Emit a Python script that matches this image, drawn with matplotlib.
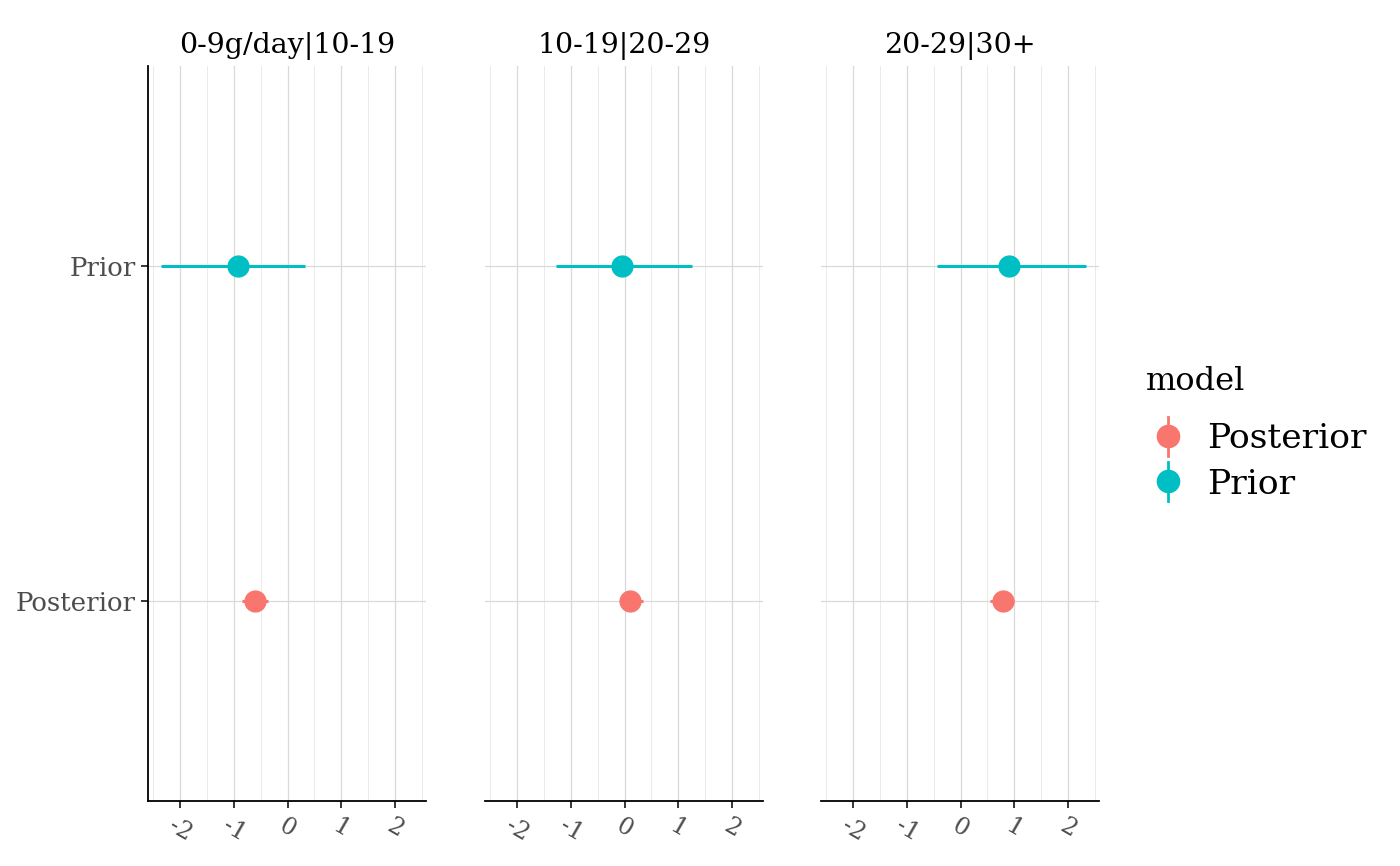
import matplotlib
matplotlib.use("Agg")
import matplotlib.pyplot as plt
from matplotlib.lines import Line2D
from matplotlib.legend_handler import HandlerBase

plt.rcParams['font.family'] = ['DejaVu Serif']

facets = ["0-9g/day|10-19", "10-19|20-29", "20-29|30+"]
models = ["Posterior", "Prior"]
colors = {"Posterior": "#F8766D", "Prior": "#00BFC4"}

# estimate, lower, upper per facet
prior_est = [-0.93, -0.04, 0.90]
prior_lo = [-2.36, -1.27, -0.43]
prior_hi = [0.32, 1.25, 2.34]
post_est = [-0.61, 0.11, 0.79]
post_lo = [-0.84, -0.09, 0.54]
post_hi = [-0.37, 0.34, 1.00]

xticks = [-2, -1, 0, 1, 2]
xticklabels = ["-2", "-1", "0", "1", "2"]

fig = plt.figure(figsize=(14, 8.66), dpi=100)
lefts = [148, 485, 821]
W, H = 1400, 866
axes = []
for i, f in enumerate(facets):
    ax = fig.add_axes([lefts[i] / W, 1 - 801 / H, 278 / W, 735 / H])
    axes.append(ax)
    data = {"Posterior": (post_est[i], post_lo[i], post_hi[i]),
            "Prior": (prior_est[i], prior_lo[i], prior_hi[i])}
    for j, m in enumerate(models):
        est, lo, hi = data[m]
        y = j + 1
        ax.hlines(y, lo, hi, color=colors[m], lw=2.2, zorder=3)
        ax.plot([est], [y], 'o', color=colors[m], ms=15, zorder=4)
    ax.set_xlim(-2.6, 2.58)
    ax.set_ylim(0.4, 2.6)
    ax.set_xticks(xticks)
    ax.set_xticks([-2.5, -1.5, -0.5, 0.5, 1.5, 2.5], minor=True)
    ax.set_yticks([1, 2])
    ax.grid(True, which='major', color='#D9D9D9', lw=0.9, zorder=0)
    ax.grid(True, which='minor', axis='x', color='#EBEBEB', lw=0.7, zorder=0)
    ax.tick_params(axis='x', which='minor', length=0)
    for s in ['top', 'right']:
        ax.spines[s].set_visible(False)
    ax.spines['bottom'].set_linewidth(1.3)
    ax.spines['left'].set_linewidth(1.3)
    ax.set_xticklabels(xticklabels, rotation=-30, ha='center', fontsize=17,
                       color='#4D4D4D')
    ax.tick_params(axis='x', length=5, width=1.1, pad=5)
    if i == 0:
        ax.set_yticklabels(models, fontsize=18.7, color='#4D4D4D')
        ax.tick_params(axis='y', length=5, width=1.1, pad=4)
    else:
        ax.spines['left'].set_visible(False)
        ax.tick_params(axis='y', length=0, labelleft=False)
    ax.set_title(f, fontsize=20.5, pad=9)
    ax.set_axisbelow(True)


class HandlerPointRange(HandlerBase):
    def create_artists(self, legend, orig_handle, xdescent, ydescent,
                       width, height, fontsize, trans):
        c = orig_handle.get_color()
        cx = width / 2 - xdescent
        vline = Line2D([cx, cx], [-ydescent - 0.3 * height, height * 1.3 - ydescent],
                       color=c, lw=2, transform=trans)
        pt = Line2D([cx], [height / 2 - ydescent], marker='o', color=c, ms=16,
                    transform=trans)
        return [vline, pt]


fig.text(1146 / W, 1 - 382 / H, "model", fontsize=23, ha='left', va='center')
handles = [Line2D([], [], color=colors[m]) for m in models]
leg = fig.legend(handles, models, loc='center left',
                 bbox_to_anchor=(1152 / W, 1 - 462 / H), frameon=False,
                 handler_map={Line2D: HandlerPointRange()},
                 fontsize=24.8, handlelength=0.95, handletextpad=0.65,
                 labelspacing=0.38, borderaxespad=0, borderpad=0)

fig.savefig("out.png", dpi=100)
